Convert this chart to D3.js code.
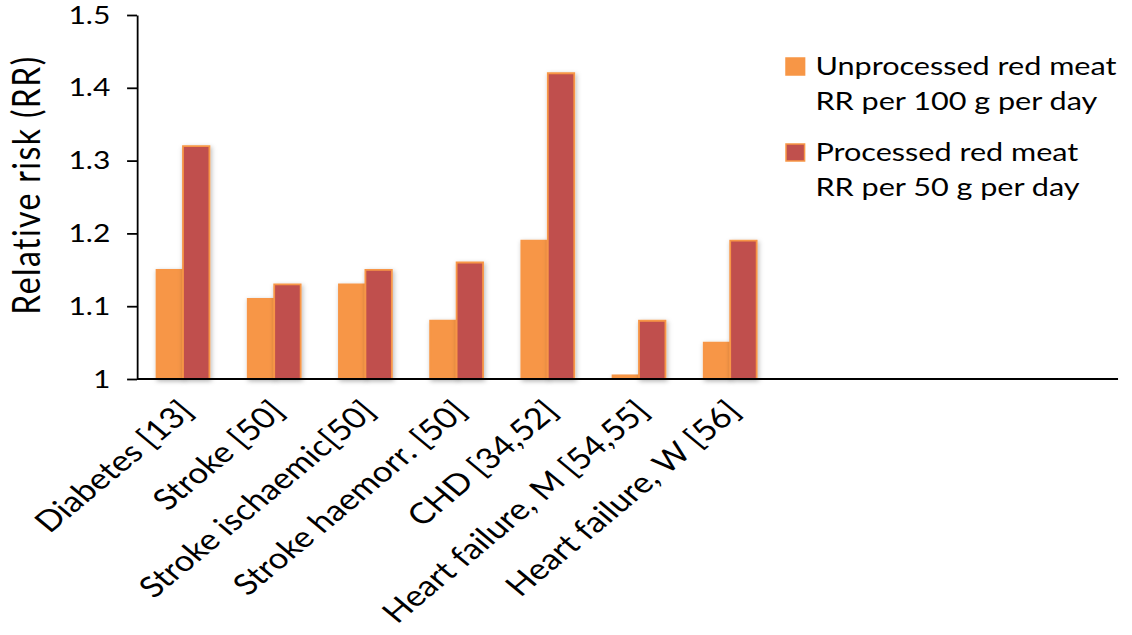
<!DOCTYPE html>
<html>
<head>
<meta charset="utf-8">
<script src="https://cdn.jsdelivr.net/npm/d3@7"></script>
<style>
  html, body { margin: 0; padding: 0; background: #ffffff; }
  svg { display: block; }
  text { font-family: Lato, "Open Sans", sans-serif; fill: #000; }
</style>
</head>
<body>
<svg id="chart"></svg>
<script>
// Relative risk of disease per daily intake of red meat
const categories = [
  "Diabetes [13]",
  "Stroke [50]",
  "Stroke ischaemic[50]",
  "Stroke haemorr. [50]",
  "CHD [34,52]",
  "Heart failure, M [54,55]",
  "Heart failure, W [56]"
];
const unprocessedRR = [1.15, 1.11, 1.13, 1.08, 1.19, 1.005, 1.05];
const processedRR   = [1.32, 1.13, 1.15, 1.16, 1.42, 1.08, 1.19];
const seriesKeys    = ["unprocessed", "processed"];
const legendLines   = [
  ["Unprocessed red meat", "RR per 100 g per day"],
  ["Processed red meat", "RR per 50 g per day"]
];
const yTicks = [1, 1.1, 1.2, 1.3, 1.4, 1.5];

const colors = { unprocessed: "#F79646", processed: "#C0504D" };

// The drawing is laid out in a narrower coordinate system and widened
// horizontally to fill the page.
const W = 1132, H = 635, SX = 1.2;
const VW = W / SX;

const svg = d3.select("#chart")
  .attr("width", W)
  .attr("height", H)
  .attr("viewBox", `0 0 ${VW} ${H}`)
  .attr("preserveAspectRatio", "none");

const defs = svg.append("defs");
const shadow = defs.append("filter")
  .attr("id", "barShadow")
  .attr("x", "-30%").attr("y", "-10%")
  .attr("width", "160%").attr("height", "130%");
shadow.append("feDropShadow")
  .attr("dx", 1).attr("dy", 1.5)
  .attr("stdDeviation", 2)
  .attr("flood-color", "#000")
  .attr("flood-opacity", 0.28);

const plot = { left: 114.2, right: 931.7, top: 15, bottom: 379 };

const y = d3.scaleLinear().domain([1, 1.5]).range([plot.bottom, plot.top]);

const step = 76;
const x0 = d3.scaleBand()
  .domain(categories)
  .range([plot.left + 0.3, plot.left + 0.3 + step * categories.length])
  .paddingInner(0.42)
  .paddingOuter(0.21);
const x1 = d3.scaleBand()
  .domain(seriesKeys)
  .range([0, x0.bandwidth()]);

const rows = categories.map((c, i) => ({
  category: c,
  values: [
    { key: "unprocessed", value: unprocessedRR[i] },
    { key: "processed", value: processedRR[i] }
  ]
}));

// Bars
const groups = svg.append("g").selectAll("g")
  .data(rows)
  .join("g")
  .attr("transform", d => `translate(${x0(d.category)},0)`);

groups.selectAll("rect")
  .data(d => d.values)
  .join("rect")
  .attr("x", d => x1(d.key))
  .attr("y", d => y(d.value))
  .attr("width", x1.bandwidth())
  .attr("height", d => y(1) - y(d.value))
  .attr("fill", d => colors[d.key])
  .attr("stroke", "#F79646")
  .attr("stroke-width", 1.8)
  .attr("vector-effect", "non-scaling-stroke")
  .attr("filter", "url(#barShadow)");

// Y axis
const yAxis = d3.axisLeft(y)
  .tickValues(yTicks)
  .tickFormat(d => d === 1 ? "1" : d3.format(".1f")(d))
  .tickSize(8.3)
  .tickSizeOuter(0)
  .tickPadding(14);

const yG = svg.append("g")
  .attr("transform", `translate(${plot.left},0)`)
  .call(yAxis);
yG.selectAll("path, line")
  .attr("stroke", "#000")
  .attr("stroke-width", 1.8)
  .attr("vector-effect", "non-scaling-stroke");
yG.selectAll("text")
  .style("font-family", "Lato, 'Open Sans', sans-serif")
  .style("font-size", "25px")
  .attr("fill", "#000");

// Baseline across the plot area
svg.append("line")
  .attr("x1", plot.left).attr("x2", plot.right)
  .attr("y1", y(1)).attr("y2", y(1))
  .attr("stroke", "#000")
  .attr("stroke-width", 2)
  .attr("vector-effect", "non-scaling-stroke");

// Category labels, slanted
svg.append("g").selectAll("text")
  .data(categories)
  .join("text")
  .attr("transform", d => `translate(${x0(d) + x0.bandwidth() / 2 + 10},${plot.bottom + 34}) rotate(-45)`)
  .attr("text-anchor", "end")
  .style("font-size", "29px")
  .text(d => d);

// Y axis title
svg.append("text")
  .attr("transform", `translate(33,185) rotate(-90)`)
  .attr("text-anchor", "middle")
  .style("font-size", "32px")
  .style("letter-spacing", "1.4px")
  .text("Relative risk (RR)");

// Legend
const legend = svg.append("g").attr("transform", "translate(655,0)");
const legendTop = [58, 144];
seriesKeys.forEach((k, i) => {
  legend.append("rect")
    .attr("x", 0).attr("y", legendTop[i])
    .attr("width", 15.5).attr("height", 17)
    .attr("fill", colors[k])
    .attr("stroke", "#F79646")
    .attr("stroke-width", 1.5)
    .attr("vector-effect", "non-scaling-stroke");
  legendLines[i].forEach((line, j) => {
    legend.append("text")
      .attr("x", 24.5)
      .attr("y", legendTop[i] + 17 + j * 35)
      .style("font-size", "25.5px")
      .text(line);
  });
});
</script>
</body>
</html>
